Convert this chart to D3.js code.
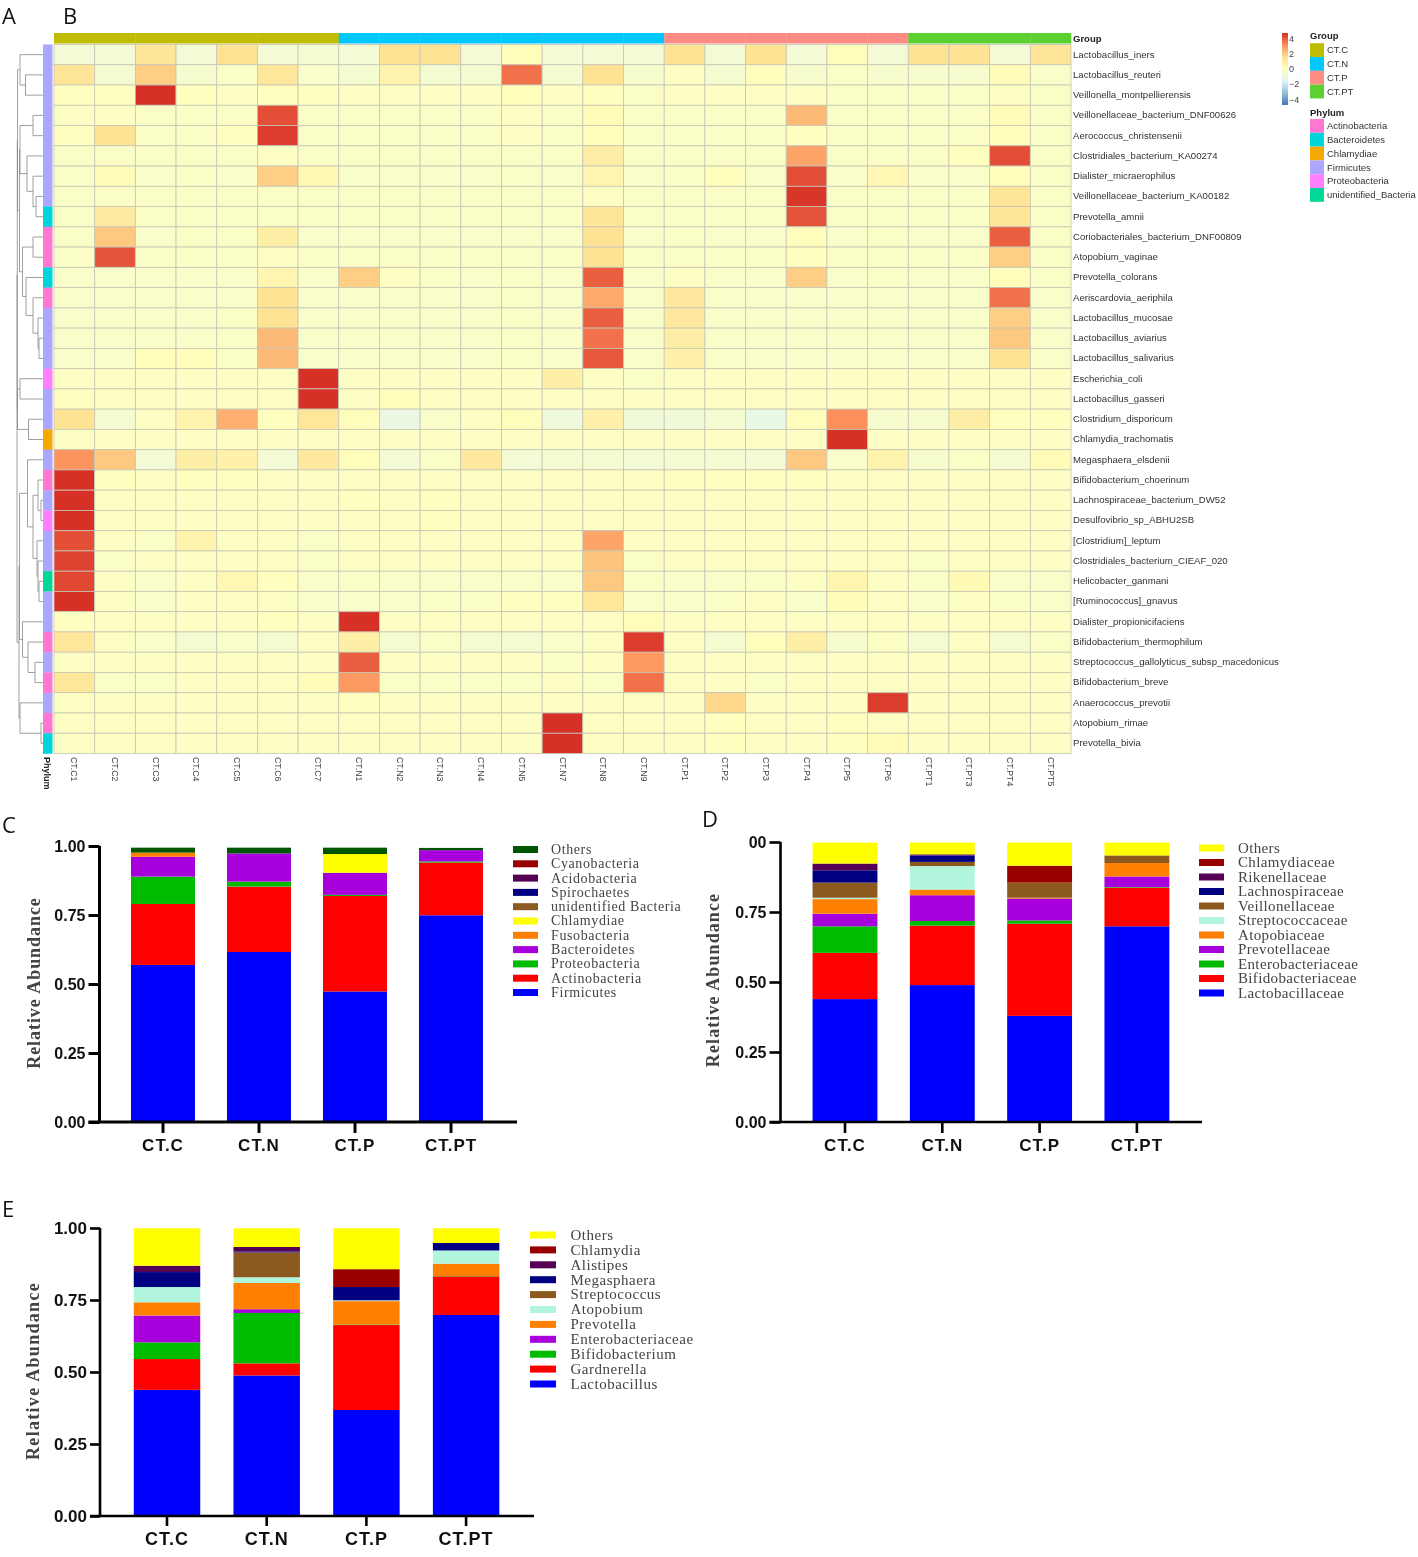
<!DOCTYPE html>
<html><head><meta charset="utf-8">
<script src="https://cdn.jsdelivr.net/npm/d3@7/dist/d3.min.js"></script>
<style>html,body{margin:0;background:#fff}svg{display:block;filter:blur(.45px)}</style>
</head><body><svg id="c" width="1418" height="1557"></svg>
<script>
const sampleNames=["CT.C1","CT.C2","CT.C3","CT.C4","CT.C5","CT.C6","CT.C7","CT.N1","CT.N2","CT.N3","CT.N4","CT.N5","CT.N7","CT.N8","CT.N9","CT.P1","CT.P2","CT.P3","CT.P4","CT.P5","CT.P6","CT.PT1","CT.PT3","CT.PT4","CT.PT5"];
const sampleGroups=["CT.C","CT.C","CT.C","CT.C","CT.C","CT.C","CT.C","CT.N","CT.N","CT.N","CT.N","CT.N","CT.N","CT.N","CT.N","CT.P","CT.P","CT.P","CT.P","CT.P","CT.P","CT.PT","CT.PT","CT.PT","CT.PT"];
const speciesNames=["Lactobacillus_iners","Lactobacillus_reuteri","Veillonella_montpellierensis","Veillonellaceae_bacterium_DNF00626","Aerococcus_christensenii","Clostridiales_bacterium_KA00274","Dialister_micraerophilus","Veillonellaceae_bacterium_KA00182","Prevotella_amnii","Coriobacteriales_bacterium_DNF00809","Atopobium_vaginae","Prevotella_colorans","Aeriscardovia_aeriphila","Lactobacillus_mucosae","Lactobacillus_aviarius","Lactobacillus_salivarius","Escherichia_coli","Lactobacillus_gasseri","Clostridium_disporicum","Chlamydia_trachomatis","Megasphaera_elsdenii","Bifidobacterium_choerinum","Lachnospiraceae_bacterium_DW52","Desulfovibrio_sp_ABHU2SB","[Clostridium]_leptum","Clostridiales_bacterium_CIEAF_020","Helicobacter_ganmani","[Ruminococcus]_gnavus","Dialister_propionicifaciens","Bifidobacterium_thermophilum","Streptococcus_gallolyticus_subsp_macedonicus","Bifidobacterium_breve","Anaerococcus_prevotii","Atopobium_rimae","Prevotella_bivia"];
const speciesPhylum=["Firmicutes","Firmicutes","Firmicutes","Firmicutes","Firmicutes","Firmicutes","Firmicutes","Firmicutes","Bacteroidetes","Actinobacteria","Actinobacteria","Bacteroidetes","Actinobacteria","Firmicutes","Firmicutes","Firmicutes","Proteobacteria","Firmicutes","Firmicutes","Chlamydiae","Firmicutes","Actinobacteria","Firmicutes","Proteobacteria","Firmicutes","Firmicutes","unidentified_Bacteria","Firmicutes","Firmicutes","Actinobacteria","Firmicutes","Actinobacteria","Firmicutes","Actinobacteria","Bacteroidetes"];
const heatValues=[
[-.6,-.6,1.3,-.6,1.4,-.6,-.5,-.6,1.4,1.4,-.6,.1,-.6,-.6,-.6,1.4,-.6,1.4,-.6,.1,-.6,1.4,1.4,-.6,1.3],
[1.3,-.5,1.9,-.4,-.2,1.2,-.3,-.5,.6,-.5,-.5,3.6,-.5,1.4,-.4,-.1,-.5,.1,-.4,-.2,-.4,-.4,-.4,.2,-.3],
[0,0,4.7,0,-.1,0,0,-.1,-.1,-.1,-.1,.1,-.1,0,-.2,-.1,-.1,-.1,-.1,-.2,-.2,-.2,-.2,-.1,-.2],
[-.1,-.1,-.2,-.2,-.2,4.2,-.2,-.2,-.2,-.2,-.2,-.1,-.2,.2,-.2,-.2,-.2,-.2,2.3,-.2,-.2,-.2,-.2,.2,-.2],
[0,1.4,-.2,-.2,0,4.5,-.2,-.2,-.2,-.2,-.2,-.1,-.2,.1,-.2,-.2,-.2,-.2,0,-.2,-.2,-.2,-.2,.1,-.2],
[-.2,-.2,-.2,-.2,-.2,-.1,-.2,-.2,-.2,-.2,-.2,-.2,-.2,.9,-.2,-.2,-.2,-.2,2.7,-.2,-.2,-.2,0,4.2,-.2],
[-.2,.2,-.3,-.2,-.3,1.9,.4,-.3,-.3,-.3,-.3,-.2,-.3,.5,-.3,-.2,.1,-.3,4.2,-.3,.4,-.3,-.3,.1,-.2],
[-.2,-.2,-.2,-.2,-.2,-.2,-.2,-.2,-.2,-.2,-.2,-.2,-.2,-.1,-.2,-.2,-.2,-.2,4.6,-.2,-.2,-.2,-.2,1.3,-.2],
[-.2,1,-.2,-.2,-.2,-.2,-.2,-.2,-.2,-.2,-.2,-.2,-.2,1.3,-.2,-.2,-.2,-.2,4.1,-.2,-.2,-.2,-.2,1.3,-.2],
[-.2,2,-.3,-.2,-.2,.8,-.3,-.3,-.3,-.3,-.3,-.3,-.3,1.4,-.3,-.2,-.3,-.3,.1,-.3,-.2,-.3,-.3,3.9,-.2],
[-.2,4.1,-.2,-.2,-.2,-.1,-.2,-.2,-.2,-.2,-.2,-.2,-.2,1.4,-.2,-.2,-.2,-.2,0,-.2,-.2,-.2,-.2,1.9,-.2],
[-.3,-.3,-.3,-.3,-.3,.5,-.3,1.9,-.1,-.2,-.3,-.2,-.3,3.9,-.3,-.1,-.3,-.3,1.9,-.3,-.2,-.3,-.3,.1,-.2],
[-.3,-.3,-.3,-.3,-.3,1.4,-.3,-.3,-.3,-.3,-.3,-.2,-.3,2.6,-.3,1.1,-.3,-.3,-.3,-.3,-.3,-.3,-.3,3.6,-.3],
[-.3,-.3,-.3,-.3,-.2,1.4,-.3,-.3,-.3,-.3,-.3,-.2,-.3,3.9,-.3,1.1,-.3,-.3,-.3,-.3,-.3,-.3,-.3,1.9,-.3],
[-.3,-.3,-.3,-.3,-.2,2.3,-.3,-.3,-.3,-.3,-.3,-.2,-.3,3.6,-.3,.9,-.3,-.3,-.3,-.3,-.3,-.3,-.3,2,-.3],
[-.3,-.3,.1,.1,-.2,2.3,-.3,-.3,-.3,-.3,-.3,-.2,-.3,4,-.3,.7,-.3,-.3,-.3,-.3,-.3,-.3,-.3,1.5,-.3],
[-.1,-.1,-.1,-.1,-.1,-.1,4.7,-.1,-.1,-.1,-.1,-.1,.8,-.1,-.2,-.1,-.1,-.1,-.1,-.1,-.1,-.1,-.1,-.1,-.1],
[0,-.1,-.1,-.1,-.1,-.1,4.7,-.1,.1,-.1,-.1,-.1,-.1,-.1,-.1,-.1,-.1,-.1,-.1,-.1,-.1,-.1,-.1,-.1,-.1],
[1.4,-.5,-.1,.6,2.5,0,1.2,.1,-1,-.3,-.1,.1,-.8,.7,-.7,-.7,-.5,-1.1,.1,3.1,-.4,-.4,.9,0,0],
[-.1,-.1,-.1,-.1,-.1,-.1,-.1,-.1,-.1,-.1,-.1,-.1,-.1,-.1,-.1,-.1,-.1,-.1,-.1,4.7,-.1,-.1,-.1,-.1,-.1],
[3,2,-.6,.8,.7,-.6,1.1,.1,-.6,-.2,1.1,-.6,-.5,-.5,-.6,-.5,-.5,-.6,2,-.3,.6,-.4,-.2,-.5,.2],
[4.7,0,-.1,0,0,-.1,-.1,-.1,-.1,-.1,-.1,-.1,-.1,-.1,-.1,0,0,0,0,-.1,-.1,-.1,-.1,-.1,-.1],
[4.7,-.1,-.1,-.1,-.1,-.1,-.1,0,-.1,0,-.1,-.1,-.1,-.1,-.1,-.1,-.1,-.1,-.1,-.1,-.1,-.1,-.1,-.1,-.1],
[4.7,-.1,-.1,-.1,-.1,-.1,-.1,-.1,-.1,0,-.1,-.1,-.1,-.1,-.1,-.1,-.1,-.1,-.1,-.1,-.1,-.1,-.1,-.1,-.1],
[4.2,-.1,-.2,.6,-.1,-.1,-.2,-.1,-.1,-.1,-.1,-.1,-.1,2.7,-.1,-.1,-.1,-.1,-.1,-.1,-.1,-.1,-.1,-.1,-.1],
[4.4,-.2,-.1,-.1,-.1,-.1,-.2,-.1,-.1,-.1,-.1,-.1,-.1,2.1,-.2,-.1,-.1,-.1,-.1,-.1,-.1,-.2,-.1,-.1,-.1],
[4.3,-.1,-.3,-.1,.4,0,-.3,-.2,-.3,-.3,-.3,-.3,-.3,2,-.2,-.3,-.3,-.2,-.1,.5,-.1,-.2,.3,-.3,-.3],
[4.7,-.1,-.3,-.1,-.1,-.1,-.3,-.3,-.3,-.2,-.2,0,0,1.2,-.3,-.3,-.2,-.1,-.3,.2,-.1,-.3,-.1,-.2,-.3],
[0,-.1,-.1,-.1,-.1,0,-.1,4.7,-.1,-.1,-.1,-.1,-.1,-.1,.1,-.1,-.1,-.1,-.1,-.1,-.1,-.1,-.1,-.1,-.1],
[1.2,-.1,-.3,-.5,-.3,-.5,-.1,.8,-.5,-.2,-.5,-.5,-.3,-.1,4.5,-.1,-.5,.1,.8,-.4,-.1,-.5,-.1,-.5,-.2],
[-.1,-.1,-.1,-.1,-.1,-.1,-.1,3.9,-.1,-.1,-.1,-.1,-.2,-.1,2.9,-.1,-.1,-.1,-.1,-.1,-.1,-.1,-.1,-.1,-.1],
[1.2,-.2,-.2,-.1,-.1,-.1,.2,2.9,-.2,-.2,-.2,-.2,-.1,-.2,3.6,-.1,-.1,-.2,-.1,-.1,-.1,-.1,-.1,-.1,-.1],
[-.1,-.1,-.1,-.1,-.1,-.1,-.1,0,-.1,-.1,-.1,-.1,-.1,-.1,-.1,-.1,1.7,-.1,-.1,-.1,4.5,-.1,-.1,-.1,-.1],
[-.1,-.1,-.1,-.1,-.1,-.1,-.1,-.1,-.1,-.1,-.1,-.1,4.7,-.1,-.1,-.1,0,-.1,-.1,0,-.1,-.1,-.1,-.1,-.1],
[-.1,-.1,-.1,-.1,-.1,-.1,-.1,-.1,-.1,-.1,-.1,-.1,4.7,-.1,-.1,-.1,0,-.1,-.1,0,.2,-.1,-.1,-.1,-.1]];
const rowDendrogram=[26,[25.7,[25.5,[23,0,[17.5,1,2]],[23.5,[23,[10,3,4],[16,5,[10,6,[7,7,8]]]],[20.5,[10,9,10],[17,11,[10,12,[5,13,[4,14,15]]]]]]],[25.5,[23,16,17],[14.5,18,19]]],[24,[23.5,[15.5,20,[10,[5,21,[2,22,23]],[6,24,[5,25,[4,26,27]]]]],[20.5,28,[15,29,[8,30,31]]]],[23,32,[2,33,34]]]];
const colorStops=[-4.7,-3.13,-1.57,0,1.57,3.13,4.7];
const colorRange=["#4575B4","#91BFDB","#E0F3F8","#FFFFBF","#FEE090","#FC8D59","#D73027"];
const legendTicks=[4,2,0,-2,-4];
const groupNames=["CT.C","CT.N","CT.P","CT.PT"];
const groupColors=["#C0BC00","#00C8FF","#FF8C82","#5CD02E"];
const phylumNames=["Actinobacteria","Bacteroidetes","Chlamydiae","Firmicutes","Proteobacteria","unidentified_Bacteria"];
const phylumColors=["#FF77D0","#00D4DC","#F5A800","#ABA6FF","#FF80FF","#00D897"];

const tickValues=[0,.25,.5,.75,1];
const stackColors=["#0000FF","#FF0000","#00BB00","#A800DC","#FF8000"];
const panelCNames=["Firmicutes","Actinobacteria","Proteobacteria","Bacteroidetes","Fusobacteria","Chlamydiae","unidentified Bacteria","Spirochaetes","Acidobacteria","Cyanobacteria","Others"];
const panelCColors=[...stackColors,"#FFFF00","#8C5A1E","#000080","#550055","#990000","#005500"];
const panelCValues=[[.569,.616,.473,.749],[.221,.237,.346,.191],[.099,.018,.004,.004],[.072,.102,.08,.041],[.015,0,0,0],[0,0,.068,0],[0,0,0,0],[0,0,0,0],[0,0,0,0],[0,0,0,0],[.018,.021,.023,.008]];
const panelDNames=["Lactobacillaceae","Bifidobacteriaceae","Enterobacteriaceae","Prevotellaceae","Atopobiaceae","Streptococcaceae","Veillonellaceae","Lachnospiraceae","Rikenellaceae","Chlamydiaceae","Others"];
const panelDEColors=[...stackColors,"#B0F5DC","#8C5A1E","#000080","#550055","#990000","#FFFF00"];
const panelDValues=[[.439,.489,.379,.699],[.165,.212,.329,.138],[.095,.017,.012,.002],[.045,.092,.078,.038],[.052,.02,.003,.048],[.005,.084,0,0],[.054,.015,.054,.027],[.044,.023,0,0],[.024,.004,0,0],[0,0,.06,0],[.075,.042,.083,.046]];
const panelENames=["Lactobacillus","Gardnerella","Bifidobacterium","Enterobacteriaceae","Prevotella","Atopobium","Streptococcus","Megasphaera","Alistipes","Chlamydia","Others"];
const panelEValues=[[.438,.488,.368,.698],[.107,.042,.295,.134],[.058,.175,.002,.001],[.093,.013,0,0],[.046,.091,.081,.043],[.053,.02,.003,.046],[0,.086,0,0],[.052,.003,.046,.026],[.022,.016,0,0],[0,0,.062,0],[.13,.065,.142,.051]];

const svg=d3.select("#c");
const sans="'Liberation Sans',Arial,sans-serif",serif="'Liberation Serif','Times New Roman',serif";

// Panel letters
[["A",2,24],["B",63,24],["C",2,833],["D",702,827],["E",2,1217]].forEach(([t,x,y])=>svg.append("text").attr("x",x).attr("y",y).attr("font-family","'Open Sans',sans-serif").attr("font-size",22).attr("fill","#111").text(t));

// Heatmap
const hx=d3.scaleBand().domain(sampleNames).range([54,1071]);
const hy=d3.scaleBand().domain(speciesNames).range([44.5,753.5]);
const heatColor=d3.scaleLinear().domain(colorStops).range(colorRange).clamp(true);
const groupColor=d3.scaleOrdinal(groupNames,groupColors);
const phylumColor=d3.scaleOrdinal(phylumNames,phylumColors);
const gridStroke="#C6C6B4";
const heat=svg.append("g");
speciesNames.forEach((sp,r)=>{
  heat.selectAll(null).data(heatValues[r]).join("rect")
    .attr("x",(d,i)=>hx(sampleNames[i])).attr("y",hy(sp)).attr("width",hx.bandwidth()).attr("height",hy.bandwidth())
    .attr("fill",d=>heatColor(d)).attr("stroke",gridStroke).attr("stroke-width",.8);
});
svg.append("g").selectAll("rect").data(sampleNames).join("rect")
  .attr("x",d=>hx(d)).attr("y",33).attr("width",hx.bandwidth()+.3).attr("height",10.5)
  .attr("fill",(d,i)=>groupColor(sampleGroups[i]));
svg.append("g").selectAll("rect").data(speciesNames).join("rect")
  .attr("x",43).attr("y",d=>hy(d)).attr("width",9.5).attr("height",hy.bandwidth()+.3)
  .attr("fill",(d,i)=>phylumColor(speciesPhylum[i]));
svg.append("g").selectAll("text").data(speciesNames).join("text")
  .attr("x",1073).attr("y",d=>hy(d)+hy.bandwidth()/2).attr("dy","0.3em")
  .attr("font-family",sans).attr("font-size",9.6).attr("fill","#333").text(d=>d);
svg.append("text").attr("x",1073).attr("y",42).attr("font-family",sans).attr("font-weight","bold").attr("font-size",9.5).attr("fill","#222").text("Group");
svg.append("g").selectAll("text").data(sampleNames).join("text")
  .attr("transform",d=>`translate(${hx(d)+hx.bandwidth()/2-3},757) rotate(90)`)
  .attr("font-family",sans).attr("font-size",8.8).attr("fill","#444").text(d=>d);
svg.append("text").attr("transform","translate(44,757) rotate(90)").attr("font-family",sans).attr("font-weight","bold").attr("font-size",9).attr("fill","#222").text("Phylum");

// Dendrogram
const dx=d3.scaleLinear().domain([0,26]).range([43,17]);
const toNode=n=>typeof n==="number"?{leaf:n,h:0}:{h:n[0],children:[toNode(n[1]),toNode(n[2])]};
const root=d3.hierarchy(toNode(rowDendrogram));
root.eachAfter(n=>{n.py=n.children?d3.mean(n.children,c=>c.py):hy(speciesNames[n.data.leaf])+hy.bandwidth()/2;});
svg.append("g").selectAll("path").data(root.descendants().filter(n=>n.children)).join("path")
  .attr("fill","none").attr("stroke","#888").attr("stroke-width",.8)
  .attr("d",n=>{const [a,b]=n.children,x=dx(n.data.h);return `M${dx(a.data.h)},${a.py}H${x}V${b.py}H${dx(b.data.h)}`;});

// Colour legend
const defs=svg.append("defs");
const lg=defs.append("linearGradient").attr("id","cb").attr("x1",0).attr("x2",0).attr("y1",1).attr("y2",0);
colorStops.forEach((s,i)=>lg.append("stop").attr("offset",i/6).attr("stop-color",colorRange[i]));
const cbY=d3.scaleLinear().domain([-4.7,4.7]).range([105,33]);
svg.append("rect").attr("x",1282).attr("y",33).attr("width",6).attr("height",72).attr("fill","url(#cb)");
svg.append("g").selectAll("text").data(legendTicks).join("text")
  .attr("x",1289).attr("y",d=>cbY(d)).attr("dy","0.35em").attr("font-family",sans).attr("font-size",9).attr("fill","#444")
  .text(d=>d<0?"\u2212"+(-d):d);
function annoLegend(title,names,colors,ty,y0,step){
  const g=svg.append("g");
  g.append("text").attr("x",1310).attr("y",ty).attr("font-family",sans).attr("font-weight","bold").attr("font-size",9.5).attr("fill","#222").text(title);
  const sy=d3.scaleBand().domain(names).range([y0,y0+step*names.length]);
  g.selectAll("rect").data(names).join("rect").attr("x",1310).attr("y",d=>sy(d)).attr("width",14).attr("height",sy.bandwidth()).attr("fill",(d,i)=>colors[i]);
  g.selectAll(".t").data(names).join("text").attr("class","t").attr("x",1327).attr("y",d=>sy(d)+sy.bandwidth()/2).attr("dy","0.35em").attr("font-family",sans).attr("font-size",9.5).attr("fill","#333").text(d=>d);
}
annoLegend("Group",groupNames,groupColors,39,43.2,13.8);
annoLegend("Phylum",phylumNames,phylumColors,116,119,13.8);

// Stacked bars
function stackedPanel(o){
  const g=svg.append("g");
  const x=d3.scaleBand().domain(groupNames).range([o.cx0-o.step/2,o.cx0+o.step*3.5]).paddingInner(o.bw0).paddingOuter(o.bw0/2);
  const y=d3.scaleLinear().domain([0,1]).range([o.y0,o.y1]);
  const rows=groupNames.map((n,i)=>{const r={group:n};o.names.forEach((s,k)=>r[s]=o.values[k][i]);return r;});
  const layers=d3.stack().keys(o.names)(rows);
  layers.forEach((l,k)=>g.append("g").selectAll("rect").data(l).join("rect")
    .attr("x",d=>x(d.data.group)).attr("width",x.bandwidth())
    .attr("y",d=>y(d[1])).attr("height",d=>Math.max(0,y(d[0])-y(d[1]))).attr("fill",o.colors[k]));
  const ya=g.append("g").attr("transform",`translate(${o.ax},0)`)
    .call(d3.axisLeft(y).tickValues(tickValues).tickSize(o.tick).tickPadding(3).tickFormat(v=>o.topLabel&&v===1?o.topLabel:d3.format(".2f")(v)));
  ya.selectAll("path,line").attr("stroke","#000").attr("stroke-width",o.sw);
  ya.select("path").attr("d",`M0,${o.y0}V${o.y1}`);
  ya.selectAll("text").attr("font-family",sans).attr("font-weight","bold").attr("font-size",o.fs).attr("fill","#111");
  const xa=g.append("g").attr("transform",`translate(0,${o.y0})`)
    .call(d3.axisBottom(x).tickSize(o.tick).tickPadding(6));
  xa.selectAll("path,line").attr("stroke","#000").attr("stroke-width",o.sw);
  xa.select("path").attr("d",`M${o.ax-o.tick},0H${o.xEnd}`);
  xa.selectAll("text").attr("font-family",sans).attr("font-weight","bold").attr("font-size",o.xfs).attr("letter-spacing",1).attr("fill","#111");
  g.append("text").attr("transform",`translate(${o.titleX},${o.titleY}) rotate(-90)`).attr("text-anchor","middle")
    .attr("font-family",serif).attr("font-weight","bold").attr("font-size",o.titleFs).attr("letter-spacing",o.titleLs).attr("fill","#444").text("Relative Abundance");
  const ly=d3.scaleLinear().domain([o.names.length-1,0]).range([o.legTop,o.legBot]);
  const leg=g.append("g");
  o.names.forEach((n,k)=>{
    leg.append("rect").attr("x",o.legX).attr("y",ly(k)-o.swH/2).attr("width",o.swW).attr("height",o.swH).attr("fill",o.colors[k]);
    leg.append("text").attr("x",o.legT).attr("y",ly(k)).attr("dy","0.32em").attr("font-family",serif).attr("font-size",o.legFs).attr("letter-spacing",o.legLs).attr("fill","#444").text(n);
  });
}
stackedPanel({names:panelCNames,values:panelCValues,colors:panelCColors,cx0:163,step:96,bw0:1/3,y0:1122,y1:846,ax:99.5,xEnd:517,tick:11,sw:3,fs:16,xfs:17,titleX:40,titleY:983,titleFs:18,titleLs:.95,legX:513,swW:25,swH:7,legT:551,legTop:849.5,legBot:992.5,legFs:14,legLs:.6});
stackedPanel({names:panelDNames,values:panelDValues,colors:panelDEColors,cx0:845,step:97.3,bw0:1/3,y0:1122,y1:842,ax:780.5,xEnd:1202,tick:11,sw:2.6,fs:16,xfs:17,topLabel:"00",titleX:719,titleY:980,titleFs:18,titleLs:1.1,legX:1199,swW:25,swH:7,legT:1238,legTop:848,legBot:993,legFs:15,legLs:.35});
stackedPanel({names:panelENames,values:panelEValues,colors:panelDEColors,cx0:167,step:99.7,bw0:1/3,y0:1516,y1:1228,ax:100,xEnd:534,tick:10,sw:2.6,fs:17,xfs:18,titleX:39,titleY:1371,titleFs:18,titleLs:1.3,legX:530,swW:26,swH:7,legT:570.5,legTop:1235,legBot:1384,legFs:15,legLs:.5});
</script></body></html>
